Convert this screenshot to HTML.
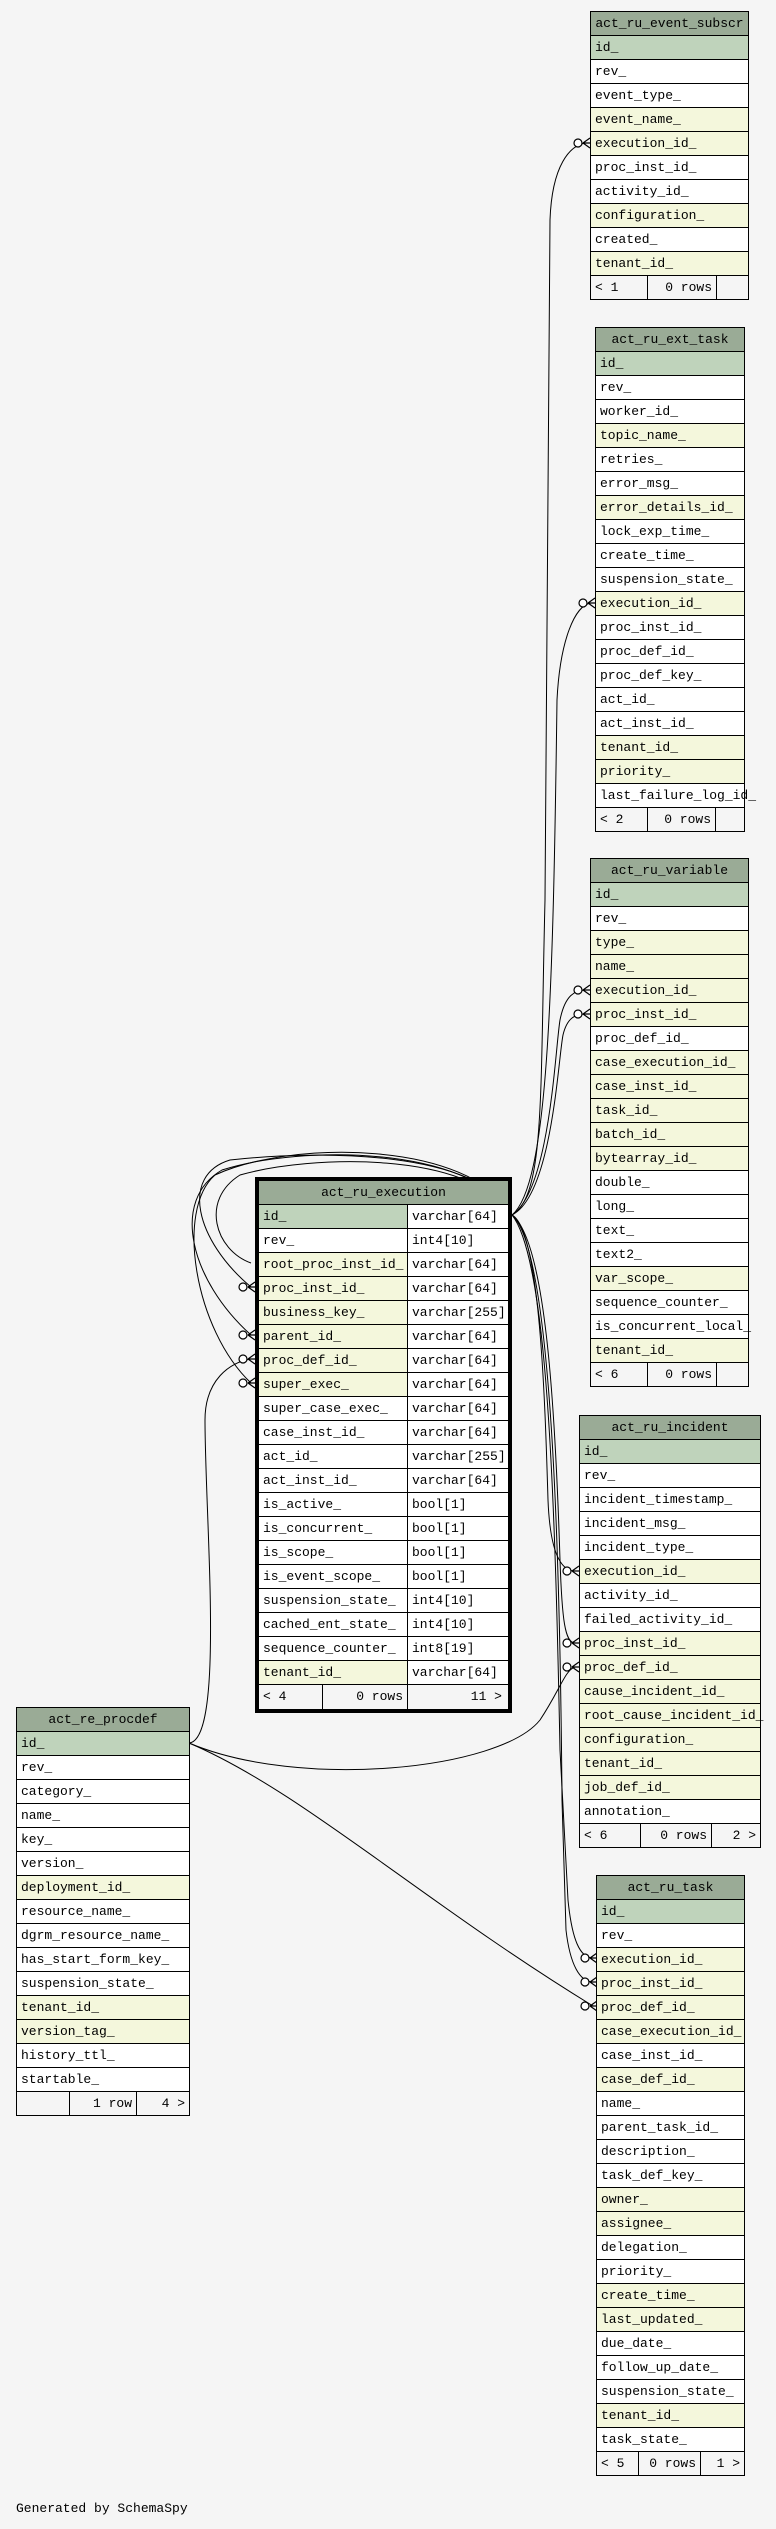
<!DOCTYPE html>
<html><head><meta charset="utf-8">
<style>
body{margin:0;background:#f5f5f5;width:776px;height:2529px;position:relative;overflow:hidden;font-family:"Liberation Mono","DejaVu Sans Mono",monospace;font-size:13px;color:#000}
.t{position:absolute;border:1px solid #000;background:#fff;box-sizing:border-box}
.t div{box-sizing:border-box;height:24px;line-height:23px;border-bottom:1px solid #000;padding-left:4px;white-space:nowrap;overflow:visible}
.t .h{background:#9aab96;text-align:center;padding-left:0}
.t .p{background:#bfd3bb}
.t .f{background:#f4f7dc}
.t .ft{display:flex;padding:0;border-bottom:none;background:#f5f5f5;height:23px}
.ft span{display:block;border-right:1px solid #000;padding:0 4px;box-sizing:border-box}
.ft span:last-child{border-right:none}
.x{position:absolute;left:255px;top:1177px;width:257px;border:4px solid #000;background:#fff;box-sizing:border-box}
.x .row{display:flex;height:24px;line-height:23px;border-bottom:1px solid #000;box-sizing:border-box}
.x .row span{display:block;padding-left:4px;box-sizing:border-box;white-space:nowrap}
.x .row span:first-child{width:149px;border-right:1px solid #000}
.x .row span:last-child{flex:1}
svg{position:absolute;left:0;top:0}
</style></head><body>
<svg width="776" height="2529" viewBox="0 0 776 2529">
<defs>
<g id="cf" fill="none" stroke="#000" stroke-width="1.2"><circle cx="-12" cy="0" r="4" fill="#fff"/><path d="M-7,0 L0,-5 M-7,0 L0,0 M-7,0 L0,5"/></g>
</defs>
<g fill="none" stroke="#000" stroke-width="1">
<path d="M512,1215 C545,1195 540,1100 545,900 L550,220 C552,165 570,145 586,143"/>
<path d="M512,1215 C548,1185 553,1000 557,700 C560,640 575,605 591,603"/>
<path d="M512,1215 C550,1190 555,1050 560,1020 C565,995 575,990 586,990"/>
<path d="M512,1215 C552,1195 558,1060 563,1035 C567,1018 575,1014 586,1014"/>
<path d="M512,1215 C540,1230 545,1400 548,1500 C550,1550 560,1571 575,1571"/>
<path d="M512,1215 C545,1240 555,1400 560,1560 C562,1620 565,1643 575,1643"/>
<path d="M512,1215 C548,1260 555,1500 560,1750 L568,1900 C572,1940 580,1958 593,1958"/>
<path d="M512,1215 C552,1250 560,1550 562,1800 L566,1930 C570,1965 580,1982 593,1982"/>
<path d="M189,1743 C300,1790 420,1900 593,2006"/>
<path d="M189,1743 C300,1790 500,1770 540,1720 C560,1690 565,1670 575,1667"/>
<path d="M189,1743 C225,1740 205,1520 205,1420 C205,1380 230,1362 251,1359"/>
<path d="M512,1215 C480,1150 320,1150 230,1160 C180,1175 195,1240 251,1287"/>
<path d="M512,1215 C470,1145 300,1145 222,1170 C170,1200 190,1280 251,1335"/>
<path d="M512,1215 C470,1140 290,1140 215,1175 C175,1210 195,1330 251,1383"/>
<path d="M512,1215 C470,1150 310,1155 240,1175 C200,1200 215,1250 251,1263"/>
</g>
<use href="#cf" x="590" y="143"/><use href="#cf" x="595" y="603"/><use href="#cf" x="590" y="990"/><use href="#cf" x="590" y="1014"/>
<use href="#cf" x="579" y="1571"/><use href="#cf" x="579" y="1643"/><use href="#cf" x="579" y="1667"/>
<use href="#cf" x="597" y="1958"/><use href="#cf" x="597" y="1982"/><use href="#cf" x="597" y="2006"/>
<use href="#cf" x="255" y="1287"/><use href="#cf" x="255" y="1335"/><use href="#cf" x="255" y="1359"/><use href="#cf" x="255" y="1383"/>
</svg>

<div class="t" style="left:590px;top:11px;width:159px">
<div class="h">act_ru_event_subscr</div><div class="p">id_</div><div>rev_</div><div>event_type_</div><div class="f">event_name_</div><div class="f">execution_id_</div><div>proc_inst_id_</div><div>activity_id_</div><div class="f">configuration_</div><div>created_</div><div class="f">tenant_id_</div>
<div class="ft"><span style="width:57px">&lt; 1</span><span style="width:69px;text-align:right">0 rows</span><span style="flex:1"></span></div></div>

<div class="t" style="left:595px;top:327px;width:150px">
<div class="h">act_ru_ext_task</div><div class="p">id_</div><div>rev_</div><div>worker_id_</div><div class="f">topic_name_</div><div>retries_</div><div>error_msg_</div><div class="f">error_details_id_</div><div>lock_exp_time_</div><div>create_time_</div><div>suspension_state_</div><div class="f">execution_id_</div><div>proc_inst_id_</div><div>proc_def_id_</div><div>proc_def_key_</div><div>act_id_</div><div>act_inst_id_</div><div class="f">tenant_id_</div><div class="f">priority_</div><div>last_failure_log_id_</div>
<div class="ft"><span style="width:52px">&lt; 2</span><span style="width:68px;text-align:right">0 rows</span><span style="flex:1"></span></div></div>

<div class="t" style="left:590px;top:858px;width:159px">
<div class="h">act_ru_variable</div><div class="p">id_</div><div>rev_</div><div class="f">type_</div><div class="f">name_</div><div class="f">execution_id_</div><div class="f">proc_inst_id_</div><div>proc_def_id_</div><div class="f">case_execution_id_</div><div class="f">case_inst_id_</div><div class="f">task_id_</div><div class="f">batch_id_</div><div class="f">bytearray_id_</div><div>double_</div><div>long_</div><div>text_</div><div>text2_</div><div class="f">var_scope_</div><div>sequence_counter_</div><div>is_concurrent_local_</div><div class="f">tenant_id_</div>
<div class="ft"><span style="width:57px">&lt; 6</span><span style="width:69px;text-align:right">0 rows</span><span style="flex:1"></span></div></div>

<div class="t" style="left:579px;top:1415px;width:182px">
<div class="h">act_ru_incident</div><div class="p">id_</div><div>rev_</div><div>incident_timestamp_</div><div>incident_msg_</div><div>incident_type_</div><div class="f">execution_id_</div><div>activity_id_</div><div>failed_activity_id_</div><div class="f">proc_inst_id_</div><div class="f">proc_def_id_</div><div class="f">cause_incident_id_</div><div class="f">root_cause_incident_id_</div><div class="f">configuration_</div><div class="f">tenant_id_</div><div class="f">job_def_id_</div><div>annotation_</div>
<div class="ft"><span style="width:61px">&lt; 6</span><span style="width:71px;text-align:right">0 rows</span><span style="flex:1;text-align:right">2 &gt;</span></div></div>

<div class="t" style="left:16px;top:1707px;width:174px">
<div class="h">act_re_procdef</div><div class="p">id_</div><div>rev_</div><div>category_</div><div>name_</div><div>key_</div><div>version_</div><div class="f">deployment_id_</div><div>resource_name_</div><div>dgrm_resource_name_</div><div>has_start_form_key_</div><div>suspension_state_</div><div class="f">tenant_id_</div><div class="f">version_tag_</div><div>history_ttl_</div><div>startable_</div>
<div class="ft"><span style="width:53px"></span><span style="width:67px;text-align:right">1 row</span><span style="flex:1;text-align:right">4 &gt;</span></div></div>

<div class="t" style="left:596px;top:1875px;width:149px">
<div class="h">act_ru_task</div><div class="p">id_</div><div>rev_</div><div class="f">execution_id_</div><div class="f">proc_inst_id_</div><div class="f">proc_def_id_</div><div class="f">case_execution_id_</div><div>case_inst_id_</div><div class="f">case_def_id_</div><div>name_</div><div>parent_task_id_</div><div>description_</div><div>task_def_key_</div><div class="f">owner_</div><div class="f">assignee_</div><div>delegation_</div><div>priority_</div><div class="f">create_time_</div><div class="f">last_updated_</div><div>due_date_</div><div>follow_up_date_</div><div>suspension_state_</div><div class="f">tenant_id_</div><div>task_state_</div>
<div class="ft"><span style="width:42px">&lt; 5</span><span style="width:62px;text-align:right">0 rows</span><span style="flex:1;text-align:right">1 &gt;</span></div></div>

<div class="x">
<div class="row" style="background:#9aab96"><span style="width:auto;border:none;padding:0;flex:1;text-align:center">act_ru_execution</span></div>
<div class="row"><span style="background:#bfd3bb">id_</span><span>varchar[64]</span></div>
<div class="row"><span>rev_</span><span>int4[10]</span></div>
<div class="row"><span style="background:#f4f7dc">root_proc_inst_id_</span><span>varchar[64]</span></div>
<div class="row"><span style="background:#f4f7dc">proc_inst_id_</span><span>varchar[64]</span></div>
<div class="row"><span style="background:#f4f7dc">business_key_</span><span>varchar[255]</span></div>
<div class="row"><span style="background:#f4f7dc">parent_id_</span><span>varchar[64]</span></div>
<div class="row"><span style="background:#f4f7dc">proc_def_id_</span><span>varchar[64]</span></div>
<div class="row"><span style="background:#f4f7dc">super_exec_</span><span>varchar[64]</span></div>
<div class="row"><span>super_case_exec_</span><span>varchar[64]</span></div>
<div class="row"><span>case_inst_id_</span><span>varchar[64]</span></div>
<div class="row"><span>act_id_</span><span>varchar[255]</span></div>
<div class="row"><span>act_inst_id_</span><span>varchar[64]</span></div>
<div class="row"><span>is_active_</span><span>bool[1]</span></div>
<div class="row"><span>is_concurrent_</span><span>bool[1]</span></div>
<div class="row"><span>is_scope_</span><span>bool[1]</span></div>
<div class="row"><span>is_event_scope_</span><span>bool[1]</span></div>
<div class="row"><span>suspension_state_</span><span>int4[10]</span></div>
<div class="row"><span>cached_ent_state_</span><span>int4[10]</span></div>
<div class="row"><span>sequence_counter_</span><span>int8[19]</span></div>
<div class="row"><span style="background:#f4f7dc">tenant_id_</span><span>varchar[64]</span></div>
<div class="row" style="border-bottom:none;background:#f5f5f5"><span style="width:64px;border-right:1px solid #000">&lt; 4</span><span style="width:85px;flex:none;border-right:1px solid #000;text-align:right;padding-right:4px">0 rows</span><span style="text-align:right;padding-right:6px">11 &gt;</span></div>
</div>

<div style="position:absolute;left:16px;top:2501px;font-size:13px">Generated by SchemaSpy</div>
</body></html>
